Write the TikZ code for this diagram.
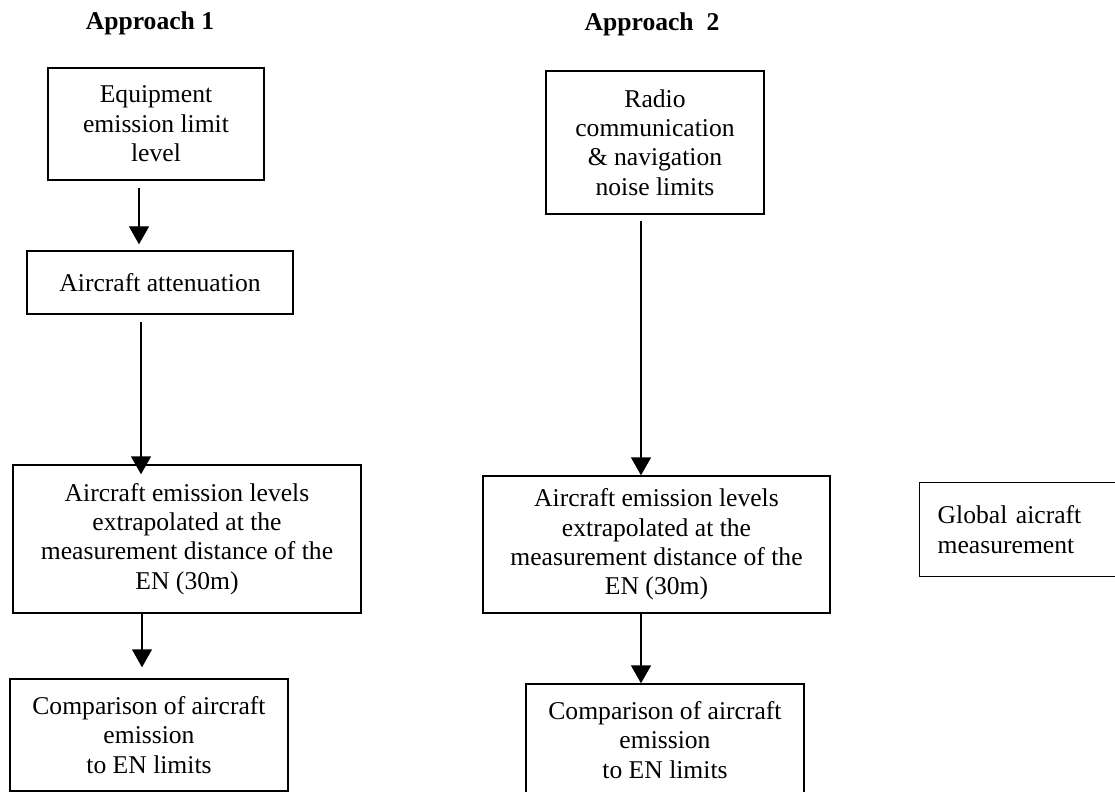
\documentclass[tikz,border=0pt]{standalone}
\usepackage{fontspec}
\setmainfont{Liberation Serif}
\usetikzlibrary{arrows.meta}
\tikzset{
  flowbox/.style={draw, line width=0.7pt, align=center, inner sep=2pt, font=\fontsize{12.8}{14.7}\selectfont},
  flowarrow/.style={line width=0.7pt, -{Triangle[width=10pt,length=9pt]}},
  heading/.style={font=\fontsize{12.8}{14.7}\selectfont\bfseries}
}

\begin{document}
\begin{tikzpicture}[x=0.5pt, y=-0.5pt]
	\useasboundingbox (0, 0) rectangle (1115, 792);
	
	%%%%% APPROACH 1 %%%%%
	
	\node[heading] (head1) at (150, 23) {Approach 1};
	\node[flowbox, minimum width=108pt, minimum height=56pt] (equip) at (156, 124) {Equipment\\emission limit\\level};
	\node[flowbox, minimum width=133pt, minimum height=31.5pt] (atten) at (160, 282.5) {Aircraft attenuation};
	\node[flowbox, minimum width=174pt, minimum height=74pt] (extrapA) at (187, 539) {Aircraft emission levels\\extrapolated at the\\measurement distance of the\\EN (30m)};
	\node[flowbox, minimum width=139pt, minimum height=56pt] (compA) at (149, 735) {Comparison of aircraft\\emission\\to EN limits};
	
	\coordinate (colA1) at (139, 0);
	\coordinate (colA2) at (141, 0);
	\coordinate (colA3) at (142, 0);
	
	\draw[flowarrow, shorten <=3.5pt, shorten >=3pt] (equip.south -| colA1) -- (atten.north -| colA1);
	\draw[flowarrow, shorten <=3.5pt, shorten >=-5pt] (atten.south -| colA2) -- (extrapA.north -| colA2);
	\draw[flowarrow, shorten >=5.5pt] (extrapA.south -| colA3) -- (compA.north -| colA3);
	
	%%%%% APPROACH 2 %%%%%
	
	\node[heading] (head2) at (652, 24) {Approach~~2};
	\node[flowbox, minimum width=109pt, minimum height=71.5pt] (radio) at (655, 142.5) {Radio\\communication\\\& navigation\\noise limits};
	\node[flowbox, minimum width=173.5pt, minimum height=68.5pt] (extrapB) at (656.5, 544.5) {Aircraft emission levels\\extrapolated at the\\measurement distance of the\\EN (30m)};
	\node[flowbox, minimum width=139pt, minimum height=56pt] (compB) at (665, 740) {Comparison of aircraft\\emission\\to EN limits};
	
	\coordinate (colB) at (641, 0);
	
	\draw[flowarrow, shorten <=3pt] (radio.south -| colB) -- (extrapB.north -| colB);
	\draw[flowarrow] (extrapB.south -| colB) -- (compB.north -| colB);
	
	%%%%% GLOBAL %%%%%
	
	\node[flowbox, anchor=north west, align=left, text width=99pt, inner xsep=9pt, minimum height=47pt] (global) at (919, 482) {Global aicraft\\measurement};
	
\end{tikzpicture}
\end{document}
